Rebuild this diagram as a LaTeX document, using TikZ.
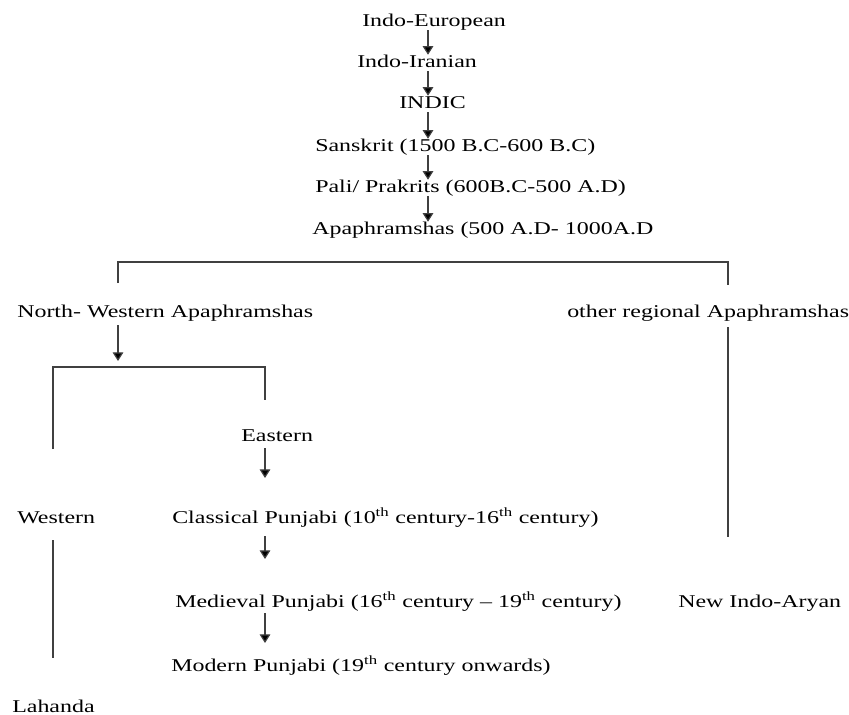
\documentclass[tikz,border=0pt]{standalone}
\usepackage{fontspec}
\setmainfont{Liberation Serif}[FakeStretch=1.33]
\usetikzlibrary{arrows.meta}
\begin{document}
\begin{tikzpicture}[x=0.75pt,y=-0.75pt,
  lbl/.style={anchor=base west,inner sep=0pt,text height=9pt,text depth=3pt,
              font=\fontsize{13.5pt}{16pt}\selectfont},
  arr/.style={draw=black!75,line width=0.9pt,-{Triangle[length=6.5pt,width=8pt,fill=black]}},
  brk/.style={draw=black!75,line width=0.9pt}]
\useasboundingbox (0,0) rectangle (849,714);

% main chain
\node[lbl] (ie)  at (362,26)  {Indo-European};
\node[lbl] (ii)  at (357,67)  {Indo-Iranian};
\node[lbl] (ind) at (399,108) {INDIC};
\node[lbl] (san) at (315,151) {Sanskrit (1500 B.C-600 B.C)};
\node[lbl] (pal) at (315,192) {Pali/ Prakrits (600B.C-500 A.D)};
\node[lbl] (apa) at (312,234) {Apaphramshas (500 A.D- 1000A.D};

% regional branches
\node[lbl] (nw)  at (17,317)  {North- Western Apaphramshas};
\node[lbl] (oth) at (567,317) {other regional Apaphramshas};
\node[lbl] (eas) at (241,441) {Eastern};
\node[lbl] (wes) at (17,523)  {Western};
\node[lbl] (cla) at (172,523) {Classical Punjabi (10\textsuperscript{th} century-16\textsuperscript{th} century)};
\node[lbl] (med) at (175,607) {Medieval Punjabi (16\textsuperscript{th} century -- 19\textsuperscript{th} century)};
\node[lbl] (nia) at (678,607) {New Indo-Aryan};
\node[lbl] (mod) at (171,671) {Modern Punjabi (19\textsuperscript{th} century onwards)};
\node[lbl] (lah) at (12,712)  {Lahanda};

% column position of the main chain arrows
\coordinate (cx) at (428,0);

% chain arrows
\draw[arr] (ie.south -| cx)  -- (ii.north -| cx);
\draw[arr] (ii.south -| cx)  -- (ind.north -| cx);
\draw[arr] (ind.south -| cx) -- (san.north -| cx);
\draw[arr] (san.south -| cx) -- (pal.north -| cx);
\draw[arr] (pal.south -| cx) -- (apa.north -| cx);

% first split
\coordinate (b1l) at (118,283);
\coordinate (b1t) at (118,262);
\coordinate (b1r) at (728,285);
\draw[brk] (b1l) -- (b1t) -| (b1r);

% north-western arrow and second split
\coordinate (nwa) at (118,325);
\coordinate (nwb) at (118,361);
\draw[arr] (nwa) -- (nwb);
\coordinate (b2l) at (53,449);
\coordinate (b2t) at (53,367);
\coordinate (b2r) at (265,400);
\draw[brk] (b2l) -- (b2t) -| (b2r);

% eastern line of descent
\coordinate (e1a) at (265,448);
\coordinate (e1b) at (265,478);
\coordinate (e2a) at (265,536);
\coordinate (e2b) at (265,559);
\coordinate (e3a) at (265,613);
\coordinate (e3b) at (265,643);
\draw[arr] (e1a) -- (e1b);
\draw[arr] (e2a) -- (e2b);
\draw[arr] (e3a) -- (e3b);

% western and regional continuations
\coordinate (wl1) at (53,540);
\coordinate (wl2) at (53,658);
\draw[brk] (wl1) -- (wl2);
\coordinate (rl1) at (728,327);
\coordinate (rl2) at (728,537);
\draw[brk] (rl1) -- (rl2);
\end{tikzpicture}
\end{document}
